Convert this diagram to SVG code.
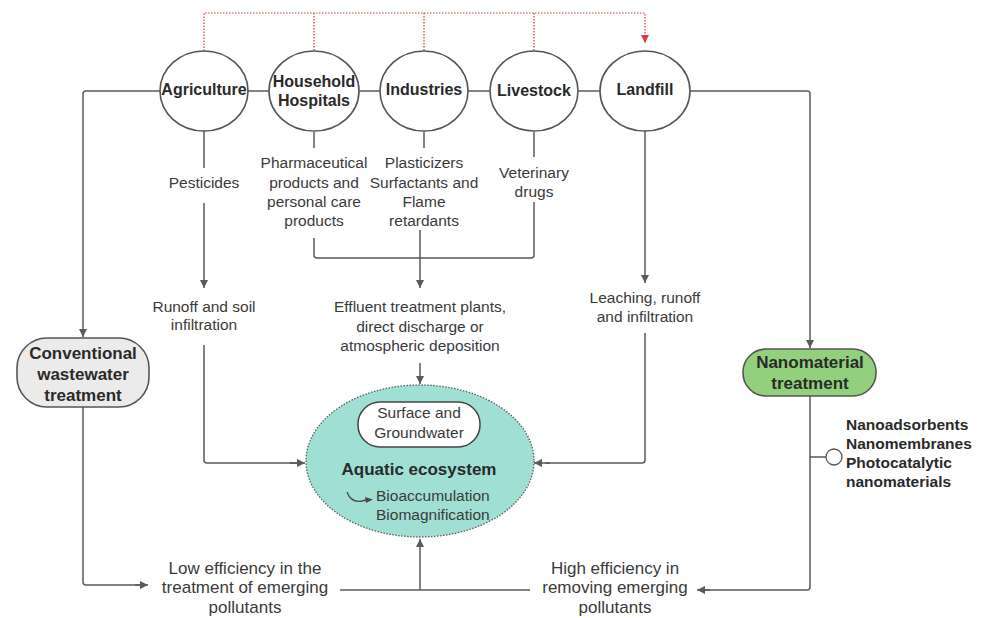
<svg xmlns="http://www.w3.org/2000/svg" width="981" height="618" viewBox="0 0 981 618">
<style>
text{font-family:"Liberation Sans",Arial,sans-serif;fill:#3a3a3a;}
.t{font-size:15.5px;text-anchor:middle;}
.b{font-size:16px;font-weight:bold;text-anchor:middle;fill:#2a2a2a;}
.bb{font-size:17px;font-weight:bold;text-anchor:middle;fill:#2a2a2a;}
.big{font-size:17px;text-anchor:middle;}
.nano{font-size:15.5px;font-weight:bold;fill:#2a2a2a;}
.ln{fill:none;stroke:#5a5a5a;stroke-width:1.5;}
.arr{fill:none;stroke:#5a5a5a;stroke-width:1.5;marker-end:url(#ah);}
.red{fill:none;stroke:#d93a3a;stroke-width:1.2;stroke-dasharray:1.5 1.5;}
.circ{fill:#fff;stroke:#555;stroke-width:1.6;}
</style>
<defs>
<marker id="ah" markerWidth="10" markerHeight="10" refX="8" refY="4" orient="auto" markerUnits="userSpaceOnUse">
<path d="M0,0 L8,4 L0,8 Z" fill="#5a5a5a"/>
</marker>
<marker id="ahr" markerWidth="10" markerHeight="10" refX="8" refY="4" orient="auto" markerUnits="userSpaceOnUse">
<path d="M0,0 L8,4 L0,8 Z" fill="#d93a3a"/>
</marker>
</defs>

<g id="connectors">
<!-- red dotted top line -->
<path class="red" d="M204,51 V13 H645 V43" marker-end="url(#ahr)"/>
<path class="red" d="M314,13 V51"/>
<path class="red" d="M424,13 V51"/>
<path class="red" d="M534,13 V51"/>
<!-- horizontal links between sources -->
<path class="ln" d="M248,91 H269"/>
<path class="ln" d="M359,91 H380"/>
<path class="ln" d="M468,91 H490"/>
<path class="ln" d="M578,91 H600"/>
<!-- left branch to conventional -->
<path class="arr" d="M160,91 H86 Q83,91 83,94 V337"/>
<!-- right branch to nanomaterial -->
<path class="arr" d="M690,91 H807 Q810,91 810,94 V348"/>
<!-- agriculture -->
<path class="ln" d="M204,131 V168"/>
<path class="arr" d="M204,203 V288"/>
<path class="ln" d="M204,345 V460 Q204,463 207,463 H297"/>
<path class="arr" d="M290,463 H305"/>
<!-- household / industries / livestock -->
<path class="ln" d="M314,132 V148"/>
<path class="ln" d="M424,132 V148"/>
<path class="ln" d="M534,132 V157"/>
<path class="ln" d="M314,238 V255 Q314,258 317,258 H531 Q534,258 534,255 V202"/>
<path class="arr" d="M420,230 V288"/>
<path class="arr" d="M420,363 V384"/>
<!-- landfill -->
<path class="arr" d="M645,131 V283"/>
<path class="ln" d="M645,333 V460 Q645,463 642,463 H545"/>
<path class="arr" d="M550,463 H534"/>
<!-- conventional down to low efficiency -->
<path class="ln" d="M83,407 V582 Q83,585 86,585 H140"/>
<path class="arr" d="M135,585 H148"/>
<!-- nanomaterial down to high efficiency -->
<path class="ln" d="M810,396 V587 Q810,590 807,590 H705"/>
<path class="arr" d="M710,590 H697"/>
<path class="ln" d="M810,457 H826"/>
<!-- bottom merge up to ecosystem -->
<path class="ln" d="M340,590 H530"/>
<path class="arr" d="M420,590 V539"/>
</g>

<g id="agriculture">
<ellipse class="circ" cx="204" cy="91" rx="44" ry="40"/>
<text class="b" x="204" y="95">Agriculture</text>
</g>
<g id="household">
<ellipse class="circ" cx="314" cy="91" rx="45" ry="40"/>
<text class="b" x="314" y="87">Household</text>
<text class="b" x="314" y="106">Hospitals</text>
</g>
<g id="industries">
<ellipse class="circ" cx="424" cy="91" rx="44" ry="40"/>
<text class="b" x="424" y="95">Industries</text>
</g>
<g id="livestock">
<ellipse class="circ" cx="534" cy="91" rx="44" ry="40"/>
<text class="b" x="534" y="96">Livestock</text>
</g>
<g id="landfill">
<ellipse class="circ" cx="645" cy="91" rx="45" ry="40"/>
<text class="b" x="645" y="95">Landfill</text>
</g>

<g id="pesticides"><text class="t" x="204" y="188">Pesticides</text></g>
<g id="pharma">
<text class="t" x="314" y="168">Pharmaceutical</text>
<text class="t" x="314" y="188">products and</text>
<text class="t" x="314" y="207">personal care</text>
<text class="t" x="314" y="226">products</text>
</g>
<g id="plasticizers">
<text class="t" x="424" y="168">Plasticizers</text>
<text class="t" x="424" y="188">Surfactants and</text>
<text class="t" x="424" y="207">Flame</text>
<text class="t" x="424" y="226">retardants</text>
</g>
<g id="veterinary">
<text class="t" x="534" y="178">Veterinary</text>
<text class="t" x="534" y="197">drugs</text>
</g>
<g id="runoff">
<text class="t" x="204" y="312">Runoff and soil</text>
<text class="t" x="204" y="330">infiltration</text>
</g>
<g id="effluent">
<text class="t" x="420" y="312">Effluent treatment plants,</text>
<text class="t" x="420" y="332">direct discharge or</text>
<text class="t" x="420" y="351">atmospheric deposition</text>
</g>
<g id="leaching">
<text class="t" x="645" y="303">Leaching, runoff</text>
<text class="t" x="645" y="322">and infiltration</text>
</g>

<g id="conventional">
<rect x="17" y="338" width="132" height="69" rx="30" ry="30" fill="#ebebeb" stroke="#555" stroke-width="1.6"/>
<text class="bb" x="83" y="359">Conventional</text>
<text class="bb" x="83" y="380">wastewater</text>
<text class="bb" x="83" y="401">treatment</text>
</g>

<g id="nanomaterial">
<rect x="743" y="349" width="133" height="47" rx="23" ry="23" fill="#92d07d" stroke="#555" stroke-width="1.6"/>
<text class="bb" x="810" y="368">Nanomaterial</text>
<text class="bb" x="810" y="389">treatment</text>
</g>

<g id="nano-types">
<circle cx="834" cy="457" r="8" fill="#fff" stroke="#555" stroke-width="1.3"/>
<text class="nano" x="846" y="430">Nanoadsorbents</text>
<text class="nano" x="846" y="449">Nanomembranes</text>
<text class="nano" x="846" y="468">Photocatalytic</text>
<text class="nano" x="846" y="487">nanomaterials</text>
</g>

<g id="aquatic">
<ellipse cx="420" cy="461" rx="114" ry="76" fill="#a0e0d4" stroke="#5a5a5a" stroke-width="1.3" stroke-dasharray="1.5 1.5"/>
<rect x="358" y="402" width="122" height="45" rx="22" ry="22" fill="#fff" stroke="#444" stroke-width="1.5"/>
<text class="t" x="419" y="418">Surface and</text>
<text class="t" x="419" y="438">Groundwater</text>
<text class="bb" x="419" y="475">Aquatic ecosystem</text>
<path d="M347,492 Q351,503 362,501 L366,500" fill="none" stroke="#4a4a4a" stroke-width="1.3"/>
<path d="M365,497 L373,499.5 L366,503 Z" fill="#4a4a4a"/>
<text class="t" x="376" y="501" style="text-anchor:start">Bioaccumulation</text>
<text class="t" x="376" y="520" style="text-anchor:start">Biomagnification</text>
</g>

<g id="low-efficiency">
<text class="big" x="245" y="574">Low efficiency in the</text>
<text class="big" x="245" y="593">treatment of emerging</text>
<text class="big" x="245" y="613">pollutants</text>
</g>
<g id="high-efficiency">
<text class="big" x="615" y="574">High efficiency in</text>
<text class="big" x="615" y="593">removing emerging</text>
<text class="big" x="615" y="613">pollutants</text>
</g>
</svg>
